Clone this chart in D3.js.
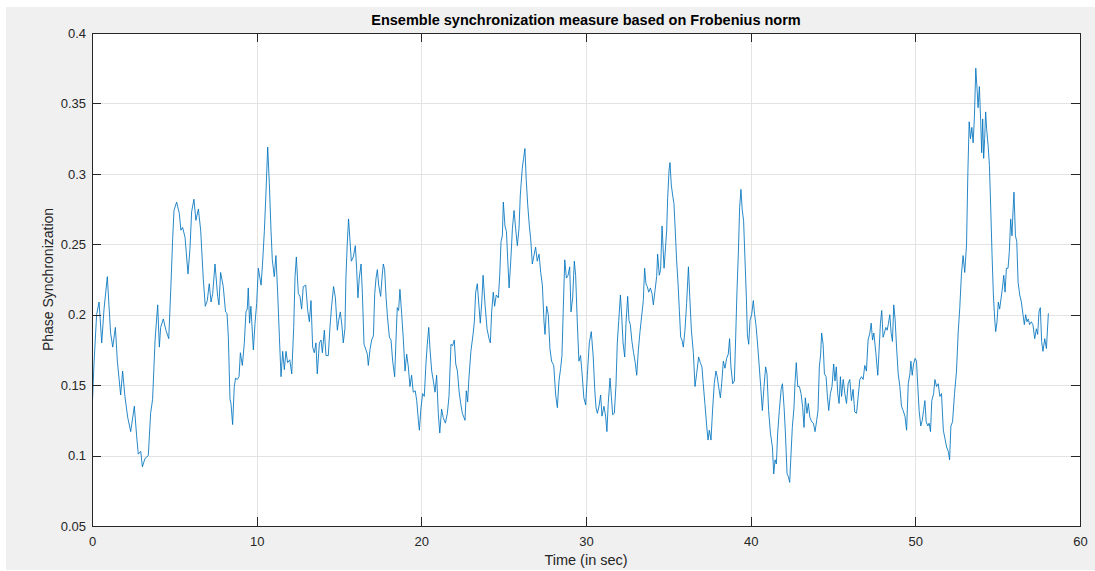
<!DOCTYPE html>
<html>
<head>
<meta charset="utf-8">
<script src="https://cdn.jsdelivr.net/npm/d3@7"></script>
<style>
  html, body { margin: 0; padding: 0; background: #ffffff; }
  svg { display: block; }
  text { font-family: "Liberation Sans", Arial, Helvetica, sans-serif; }
</style>
</head>
<body>
<div id="chart"></div>
<script>
// ---------------- data ----------------
const chartTitle = "Ensemble synchronization measure based on Frobenius norm";
const xLabel = "Time (in sec)";
const yLabel = "Phase Synchronization";

const xTicks = [0, 10, 20, 30, 40, 50, 60];
const xTickLabels = ["0", "10", "20", "30", "40", "50", "60"];
const yTicks = [0.05, 0.1, 0.15, 0.2, 0.25, 0.3, 0.35, 0.4];
const yTickLabels = ["0.05", "0.1", "0.15", "0.2", "0.25", "0.3", "0.35", "0.4"];

const timeSec = [
0,0.12,0.28,0.43,0.59,0.73,0.93,1.13,1.26,1.42,1.54,1.74,1.86,2.0,2.17,2.35,2.57,2.71,2.81,2.96,
3.06,3.22,3.42,3.56,3.68,3.83,3.99,4.09,4.17,4.33,4.49,4.66,4.78,4.90,4.98,5.14,5.30,5.40,5.50,5.65,
5.83,5.95,6.05,6.19,6.31,6.46,6.60,6.76,6.88,7.0,7.12,7.23,7.33,7.47,7.63,7.71,7.81,7.97,8.11,8.2,
8.28,8.38,8.44,8.54,8.64,8.72,8.82,8.93,9.01,9.13,9.25,9.35,9.43,9.49,9.57,9.65,9.80,9.90,10.0,10.1,
10.27,10.37,10.47,10.57,10.67,10.77,10.87,10.95,11.07,11.17,11.27,11.38,11.48,11.58,11.68,11.78,11.88,12.01,12.13,12.25,
12.33,12.41,12.53,12.63,12.73,12.83,12.98,13.10,13.20,13.30,13.40,13.50,13.60,13.68,13.81,13.91,13.99,14.11,14.21,14.35,
14.45,14.55,14.67,14.78,14.90,14.98,15.08,15.18,15.26,15.36,15.42,15.50,15.58,15.67,15.75,15.87,15.99,16.07,16.15,16.23,
16.34,16.42,16.52,16.64,16.72,16.78,16.88,16.98,17.09,17.17,17.25,17.33,17.41,17.53,17.61,17.69,17.77,17.86,17.94,18.06,
18.16,18.26,18.38,18.46,18.54,18.62,18.70,18.81,18.91,19.01,19.11,19.21,19.31,19.41,19.51,19.63,19.72,19.82,19.88,19.98,
20.08,20.18,20.28,20.36,20.45,20.53,20.63,20.73,20.83,20.93,21.03,21.12,21.23,21.33,21.46,21.58,21.68,21.80,21.90,22.0,
22.09,22.19,22.29,22.39,22.49,22.59,22.65,22.73,22.81,22.89,23.01,23.14,23.22,23.30,23.40,23.48,23.58,23.67,23.75,23.87,
23.99,24.11,24.19,24.27,24.37,24.45,24.55,24.68,24.76,24.84,24.92,24.98,25.08,25.17,25.25,25.33,25.43,25.53,25.63,25.73,
25.83,25.93,26.01,26.13,26.21,26.29,26.37,26.46,26.56,26.64,26.74,26.84,26.94,27.04,27.15,27.25,27.35,27.45,27.51,27.61,
27.71,27.81,27.91,28.04,28.16,28.26,28.36,28.46,28.54,28.62,28.71,28.81,28.91,29.01,29.09,29.19,29.29,29.37,29.47,29.57,
29.67,29.77,29.87,29.98,30.08,30.20,30.32,30.44,30.53,30.61,30.69,30.79,30.89,30.97,31.09,31.19,31.27,31.35,31.46,31.54,
31.62,31.72,31.82,31.90,31.99,32.09,32.17,32.25,32.35,32.43,32.53,32.61,32.69,32.79,32.89,32.99,33.08,33.18,33.28,33.38,
33.48,33.56,33.64,33.72,33.81,33.91,34.01,34.09,34.19,34.29,34.35,34.45,34.53,34.62,34.74,34.82,34.90,34.96,35.04,35.10,
35.18,35.26,35.34,35.42,35.50,35.59,35.67,35.75,35.83,35.91,36.01,36.11,36.22,36.30,36.40,36.52,36.62,36.72,36.84,36.94,
37.04,37.12,37.22,37.33,37.41,37.49,37.59,37.69,37.79,37.89,37.97,38.04,38.16,38.24,38.34,38.44,38.54,38.64,38.72,38.80,
38.91,39.01,39.09,39.17,39.25,39.33,39.41,39.49,39.57,39.65,39.74,39.80,39.88,39.96,40.06,40.16,40.24,40.32,40.40,40.51,
40.61,40.71,40.81,40.91,40.99,41.09,41.20,41.32,41.40,41.48,41.56,41.64,41.74,41.85,41.93,42.03,42.11,42.21,42.29,42.37,
42.45,42.53,42.63,42.69,42.77,42.86,42.96,43.06,43.16,43.24,43.32,43.42,43.50,43.60,43.71,43.81,43.91,44.01,44.09,44.17,
44.25,44.31,44.40,44.48,44.58,44.66,44.74,44.84,44.94,45.04,45.12,45.20,45.29,45.37,45.45,45.52,45.62,45.72,45.82,45.92,
46.02,46.12,46.22,46.32,46.43,46.53,46.63,46.73,46.83,46.93,47.03,47.13,47.24,47.32,47.40,47.48,47.60,47.72,47.80,47.88,
47.96,48.04,48.12,48.21,48.29,48.37,48.45,48.53,48.61,48.69,48.77,48.86,48.96,49.06,49.16,49.26,49.37,49.47,49.57,49.67,
49.73,49.81,49.89,49.99,50.07,50.15,50.23,50.33,50.42,50.50,50.58,50.66,50.76,50.84,50.92,51.00,51.11,51.19,51.29,51.39,
51.49,51.59,51.70,51.80,51.90,52.00,52.08,52.16,52.26,52.38,52.50,52.60,52.70,52.80,52.90,53.00,53.11,53.19,53.27,53.35,
53.43,53.51,53.59,53.67,53.75,53.81,53.89,53.97,54.03,54.09,54.15,54.21,54.27,54.33,54.42,54.50,54.58,54.66,54.74,54.82,
54.88,54.96,55.04,55.12,55.21,55.29,55.37,55.45,55.53,55.63,55.71,55.79,55.87,55.93,55.99,56.08,56.16,56.24,56.34,56.44,
56.54,56.62,56.70,56.78,56.86,56.94,57.04,57.14,57.25,57.35,57.43,57.51,57.59,57.67,57.75,57.86,57.96,58.08
];

const phaseSync = [
0.13,0.165,0.20,0.209,0.18,0.204,0.227,0.187,0.177,0.191,0.167,0.143,0.16,0.142,0.127,0.117,0.135,0.114,0.101,0.103,
0.092,0.098,0.100,0.13,0.14,0.182,0.207,0.177,0.191,0.197,0.189,0.183,0.217,0.254,0.274,0.28,0.272,0.26,0.262,0.255,
0.229,0.247,0.273,0.282,0.267,0.275,0.26,0.225,0.206,0.21,0.222,0.209,0.215,0.236,0.213,0.207,0.23,0.22,0.202,0.201,
0.184,0.14,0.137,0.122,0.149,0.155,0.154,0.156,0.173,0.164,0.18,0.202,0.204,0.219,0.194,0.206,0.175,0.194,0.208,0.233,
0.221,0.239,0.26,0.288,0.319,0.293,0.26,0.239,0.227,0.242,0.217,0.184,0.156,0.174,0.161,0.174,0.166,0.168,0.158,0.191,
0.227,0.241,0.215,0.213,0.204,0.22,0.221,0.203,0.195,0.21,0.177,0.173,0.18,0.158,0.18,0.182,0.173,0.189,0.171,0.171,
0.191,0.206,0.22,0.212,0.189,0.196,0.202,0.192,0.18,0.19,0.226,0.25,0.268,0.252,0.238,0.241,0.249,0.233,0.212,0.226,
0.236,0.215,0.179,0.175,0.172,0.164,0.175,0.182,0.185,0.215,0.226,0.232,0.221,0.213,0.226,0.236,0.232,0.212,0.199,0.184,
0.182,0.167,0.156,0.182,0.205,0.203,0.218,0.2,0.182,0.16,0.172,0.163,0.149,0.157,0.145,0.146,0.139,0.125,0.118,0.134,
0.144,0.142,0.165,0.179,0.191,0.175,0.16,0.153,0.145,0.157,0.13,0.116,0.133,0.127,0.123,0.13,0.142,0.179,0.178,0.182,
0.165,0.16,0.146,0.137,0.13,0.127,0.125,0.146,0.138,0.155,0.174,0.186,0.195,0.216,0.222,0.209,0.194,0.209,0.228,0.207,
0.19,0.183,0.18,0.202,0.216,0.206,0.214,0.212,0.228,0.252,0.256,0.28,0.263,0.259,0.238,0.219,0.238,0.261,0.274,0.261,
0.249,0.261,0.285,0.304,0.311,0.318,0.296,0.278,0.263,0.254,0.236,0.242,0.248,0.238,0.243,0.23,0.221,0.195,0.186,0.206,
0.2,0.176,0.167,0.164,0.143,0.134,0.153,0.162,0.171,0.204,0.239,0.226,0.228,0.234,0.202,0.212,0.238,0.228,0.195,0.167,
0.171,0.157,0.141,0.136,0.157,0.18,0.188,0.17,0.147,0.134,0.13,0.135,0.143,0.128,0.135,0.128,0.117,0.137,0.155,0.142,
0.129,0.13,0.15,0.18,0.196,0.214,0.199,0.18,0.17,0.194,0.213,0.196,0.193,0.181,0.173,0.166,0.157,0.175,0.188,0.199,
0.21,0.233,0.222,0.22,0.216,0.219,0.215,0.207,0.217,0.227,0.243,0.228,0.232,0.263,0.233,0.246,0.26,0.283,0.302,0.308,
0.292,0.285,0.279,0.26,0.239,0.222,0.203,0.184,0.182,0.177,0.189,0.208,0.234,0.213,0.189,0.173,0.149,0.158,0.17,0.166,
0.163,0.151,0.137,0.121,0.111,0.118,0.111,0.133,0.151,0.16,0.156,0.15,0.141,0.151,0.167,0.162,0.169,0.172,0.183,0.163,
0.151,0.153,0.184,0.217,0.243,0.276,0.289,0.274,0.267,0.241,0.212,0.186,0.179,0.196,0.2,0.21,0.2,0.193,0.182,0.165,
0.149,0.132,0.149,0.163,0.158,0.132,0.116,0.106,0.087,0.097,0.094,0.116,0.132,0.147,0.151,0.134,0.116,0.087,0.085,0.081,
0.101,0.12,0.134,0.151,0.166,0.149,0.149,0.144,0.134,0.12,0.141,0.13,0.137,0.127,0.124,0.123,0.117,0.125,0.132,0.163,
0.172,0.187,0.179,0.158,0.156,0.142,0.132,0.144,0.149,0.165,0.153,0.163,0.144,0.137,0.156,0.142,0.154,0.144,0.137,0.151,
0.154,0.139,0.147,0.131,0.13,0.142,0.154,0.156,0.154,0.164,0.16,0.182,0.187,0.194,0.182,0.187,0.173,0.157,0.175,0.194,
0.203,0.184,0.187,0.191,0.189,0.194,0.2,0.187,0.181,0.207,0.197,0.177,0.158,0.149,0.135,0.132,0.128,0.118,0.151,0.158,
0.167,0.157,0.165,0.169,0.167,0.149,0.132,0.121,0.125,0.132,0.139,0.124,0.121,0.123,0.117,0.139,0.144,0.154,0.149,0.151,
0.142,0.144,0.118,0.112,0.106,0.103,0.097,0.121,0.124,0.144,0.16,0.187,0.205,0.229,0.242,0.23,0.25,0.301,0.337,0.325,
0.333,0.322,0.341,0.375,0.36,0.347,0.362,0.337,0.315,0.339,0.311,0.325,0.344,0.332,0.32,0.306,0.275,0.242,0.214,0.197,
0.188,0.195,0.209,0.204,0.212,0.219,0.228,0.216,0.233,0.233,0.245,0.268,0.256,0.273,0.287,0.256,0.252,0.223,0.214,0.209,
0.2,0.193,0.2,0.195,0.197,0.193,0.195,0.193,0.183,0.19,0.186,0.202,0.205,0.181,0.174,0.183,0.176,0.201
];

// ---------------- layout ----------------
const W = 1095, H = 571;
const plot = { left: 92, right: 1080, top: 33, bottom: 526 };
const axisColor = "#262626";
const gridColor = "#e3e3e3";
const lineColor = "#0072bd";
const tickLen = 9;

const svg = d3.select("#chart").append("svg")
  .attr("width", W).attr("height", H);

svg.append("rect").attr("x", 0).attr("y", 0).attr("width", W).attr("height", H).attr("fill", "#ffffff");
svg.append("rect").attr("x", 6).attr("y", 7).attr("width", W - 6).attr("height", H - 8).attr("fill", "#f0f0f0");

const x = d3.scaleLinear().domain([0, 60]).range([plot.left, plot.right]);
const y = d3.scaleLinear().domain([0.05, 0.4]).range([plot.bottom, plot.top]);

// plot area
svg.append("rect")
  .attr("x", plot.left).attr("y", plot.top)
  .attr("width", plot.right - plot.left).attr("height", plot.bottom - plot.top)
  .attr("fill", "#ffffff");

// grid
const grid = svg.append("g").attr("shape-rendering", "crispEdges");
grid.selectAll("line.gx").data(xTicks).join("line")
  .attr("x1", d => Math.round(x(d)) + 0.5).attr("x2", d => Math.round(x(d)) + 0.5)
  .attr("y1", plot.top).attr("y2", plot.bottom)
  .attr("stroke", gridColor).attr("stroke-width", 1);
grid.selectAll("line.gy").data(yTicks).join("line")
  .attr("y1", d => Math.round(y(d)) + 0.5).attr("y2", d => Math.round(y(d)) + 0.5)
  .attr("x1", plot.left).attr("x2", plot.right)
  .attr("stroke", gridColor).attr("stroke-width", 1);

// data line
const data = timeSec.map((t, i) => ({ t, v: phaseSync[i] }));
svg.append("defs").append("clipPath").attr("id", "clip")
  .append("rect").attr("x", plot.left).attr("y", plot.top)
  .attr("width", plot.right - plot.left).attr("height", plot.bottom - plot.top);
svg.append("path")
  .datum(data)
  .attr("clip-path", "url(#clip)")
  .attr("fill", "none")
  .attr("stroke", lineColor)
  .attr("stroke-width", 0.85)
  .attr("stroke-linejoin", "round")
  .attr("d", d3.line().x(d => x(d.t)).y(d => y(d.v)));

// axes
function styleAxis(g, showText) {
  g.attr("shape-rendering", "crispEdges");
  g.select(".domain").attr("stroke", axisColor);
  g.selectAll(".tick line").attr("stroke", axisColor);
  g.selectAll(".tick text")
    .attr("fill", axisColor)
    .attr("font-size", "13px")
    .attr("font-family", "'Liberation Sans', Arial, sans-serif")
    .style("display", showText ? null : "none");
}

svg.append("g")
  .attr("transform", `translate(0,${plot.bottom})`)
  .call(d3.axisBottom(x).tickValues(xTicks).tickFormat((d, i) => xTickLabels[i])
    .tickSizeInner(-tickLen).tickSizeOuter(0).tickPadding(11))
  .call(g => styleAxis(g, true));

svg.append("g")
  .attr("transform", `translate(0,${plot.top})`)
  .call(d3.axisTop(x).tickValues(xTicks).tickFormat((d, i) => xTickLabels[i])
    .tickSizeInner(-tickLen).tickSizeOuter(0))
  .call(g => styleAxis(g, false));

svg.append("g")
  .attr("transform", `translate(${plot.left},0)`)
  .call(d3.axisLeft(y).tickValues(yTicks).tickFormat((d, i) => yTickLabels[i])
    .tickSizeInner(-tickLen).tickSizeOuter(0).tickPadding(6))
  .call(g => styleAxis(g, true));

svg.append("g")
  .attr("transform", `translate(${plot.right},0)`)
  .call(d3.axisRight(y).tickValues(yTicks).tickFormat((d, i) => yTickLabels[i])
    .tickSizeInner(-tickLen).tickSizeOuter(0))
  .call(g => styleAxis(g, false));

svg.selectAll("g").attr("font-family", null);

// titles
const cx = (plot.left + plot.right) / 2;
svg.append("text")
  .attr("x", cx).attr("y", 25)
  .attr("text-anchor", "middle")
  .attr("font-size", "14.5px").attr("font-weight", "bold")
  .attr("fill", "#000000")
  .text(chartTitle);

svg.append("text")
  .attr("x", cx).attr("y", 565)
  .attr("text-anchor", "middle")
  .attr("font-size", "14.5px")
  .attr("fill", axisColor)
  .text(xLabel);

svg.append("text")
  .attr("transform", `translate(53,${(plot.top + plot.bottom) / 2}) rotate(-90)`)
  .attr("text-anchor", "middle")
  .attr("font-size", "14px")
  .attr("fill", axisColor)
  .text(yLabel);
</script>
</body>
</html>
